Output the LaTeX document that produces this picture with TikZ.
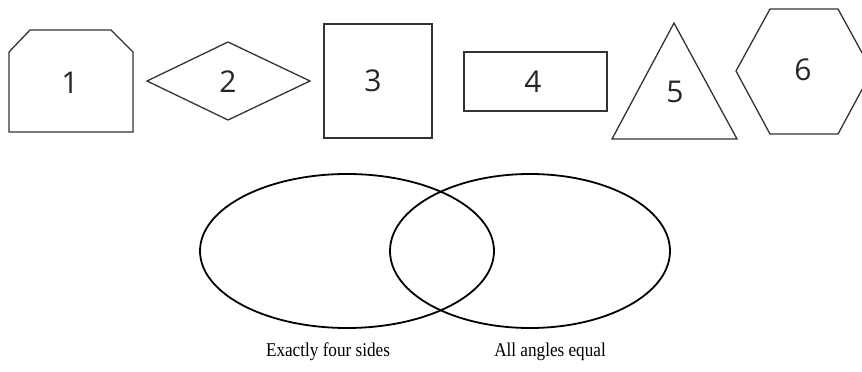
\documentclass[tikz,border=0pt]{standalone}
\usepackage{fontspec}
\setmainfont{Liberation Serif}
\newfontfamily\numfont{Open Sans}
\newcommand{\narrowtext}[1]{\scalebox{0.88}[1]{#1}}
\begin{document}
\begin{tikzpicture}[x=1pt,y=-1pt,
  shapeline/.style={draw=black!80,line width=1.3pt,line join=miter},
  numlabel/.style={font=\numfont\fontsize{30}{30}\selectfont,text=black!85,inner sep=0pt},
  vennline/.style={draw=black,line width=1.8pt},
  venntext/.style={font=\fontsize{19.5}{19.5}\selectfont,inner sep=0pt,anchor=base}]
\useasboundingbox (0,0) rectangle (862,372);
% shape 1
\draw[shapeline] (9,52) -- (30,30) -- (111,30) -- (133,52) -- (133,132) -- (9,132) -- cycle;
\node[numlabel] (n1) at (70,83) {1};
% shape 2
\draw[shapeline] (147,81) -- (228,42) -- (310,81) -- (228,120) -- cycle;
\node[numlabel] (n2) at (228,82) {2};
% shape 3
\draw[shapeline] (324,24) rectangle (432,138);
\node[numlabel] (n3) at (373,81) {3};
% shape 4
\draw[shapeline] (464,52) rectangle (607,111);
\node[numlabel] (n4) at (533,82) {4};
% shape 5
\draw[shapeline] (674,23) -- (737,139) -- (612,139) -- cycle;
\node[numlabel] (n5) at (675,92) {5};
% shape 6
\draw[shapeline] (736,71) -- (770,9) -- (838,9) -- (872,71) -- (838,134) -- (770,134) -- cycle;
\node[numlabel] (n6) at (803,70) {6};
% Venn
\draw[vennline] (347,251) ellipse [x radius=147, y radius=77];
\draw[vennline] (530,251) ellipse [x radius=140, y radius=77];
\node[venntext] (t1) at (328,356) {\narrowtext{Exactly four sides}};
\node[venntext] (t2) at (550,356) {\narrowtext{All angles equal}};
\end{tikzpicture}
\end{document}
